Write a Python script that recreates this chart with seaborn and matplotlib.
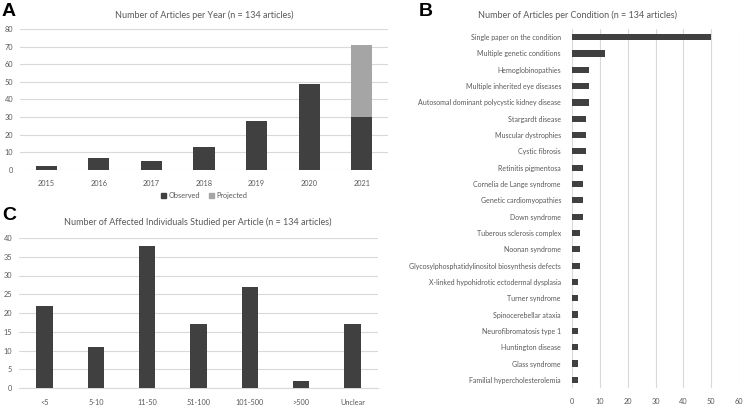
import matplotlib
matplotlib.use("Agg")
import matplotlib.pyplot as plt
import seaborn as sns
import pandas as pd
from matplotlib.patches import Patch

# ---------------- data ----------------
years = ["2015", "2016", "2017", "2018", "2019", "2020", "2021"]
observed = [2, 7, 5, 13, 28, 49, 30]
projected_total = [0, 0, 0, 0, 0, 0, 71]

conditions = [
    "Single paper on the condition",
    "Multiple genetic conditions",
    "Hemoglobinopathies",
    "Multiple inherited eye diseases",
    "Autosomal dominant polycystic kidney disease",
    "Stargardt disease",
    "Muscular dystrophies",
    "Cystic fibrosis",
    "Retinitis pigmentosa",
    "Cornelia de Lange syndrome",
    "Genetic cardiomyopathies",
    "Down syndrome",
    "Tuberous sclerosis complex",
    "Noonan syndrome",
    "Glycosylphosphatidylinositol biosynthesis defects",
    "X-linked hypohidrotic ectodermal dysplasia",
    "Turner syndrome",
    "Spinocerebellar ataxia",
    "Neurofibromatosis type 1",
    "Huntington disease",
    "Glass syndrome",
    "Familial hypercholesterolemia",
]
condition_counts = [50, 12, 6, 6, 6, 5, 5, 5, 4, 4, 4, 4, 3, 3, 3, 2, 2, 2, 2, 2, 2, 2]

size_groups = ["<5", "5-10", "11-50", "51-100", "101-500", ">500", "Unclear"]
size_counts = [22, 11, 38, 17, 27, 2, 17]

# ---------------- style ----------------
sns.set_theme(style="white")
plt.rcParams["font.family"] = ["Lato", "DejaVu Sans"]
TXT = "#595959"
GRID = "#d9d9d9"
DARK = "#404040"
LIGHT = "#a5a5a5"
TICK_FS = 5.3
TITLE_FS = 6.5

W, H = 746, 411
fig = plt.figure(figsize=(W / 100, H / 100), dpi=100)


def box(l, t, r, b):
    return [l / W, 1 - b / H, (r - l) / W, (b - t) / H]


def style_axes(ax):
    for s in ax.spines.values():
        s.set_visible(False)
    ax.tick_params(colors=TXT, labelsize=TICK_FS, length=0)
    ax.set_xlabel("")
    ax.set_ylabel("")


# ---------------- Panel A ----------------
axA = fig.add_axes(box(20, 29, 388, 170))
dfA = pd.DataFrame({"year": years, "observed": observed, "projected": projected_total})
sns.barplot(data=dfA, x="year", y="projected", color=LIGHT, width=0.4,
            saturation=1, ax=axA, zorder=2, linewidth=0)
sns.barplot(data=dfA, x="year", y="observed", color=DARK, width=0.4,
            saturation=1, ax=axA, zorder=3, linewidth=0)
axA.set_ylim(0, 80)
axA.set_yticks(range(0, 81, 10))
axA.set_xlim(-0.5, 6.5)
axA.yaxis.grid(True, color=GRID, linewidth=0.8, zorder=0)
axA.set_axisbelow(True)
style_axes(axA)
axA.tick_params(axis="x", pad=7)
axA.tick_params(axis="y", pad=5)
axA.legend(handles=[Patch(color=DARK, label="Observed"), Patch(color=LIGHT, label="Projected")],
           loc="upper center", bbox_to_anchor=(0.5, -0.13), ncol=2, frameon=False,
           fontsize=TICK_FS, labelcolor=TXT, handlelength=0.7, handleheight=0.7,
           handletextpad=0.3, columnspacing=1.2, borderpad=0)
fig.text(204 / W, 1 - 15 / H, "Number of Articles per Year (n = 134 articles)",
         ha="center", va="center", fontsize=TITLE_FS, color=TXT)

# ---------------- Panel C ----------------
axC = fig.add_axes(box(19, 238, 378, 388))
dfC = pd.DataFrame({"group": size_groups, "count": size_counts})
sns.barplot(data=dfC, x="group", y="count", color=DARK, width=0.32,
            saturation=1, ax=axC, zorder=3, linewidth=0)
axC.set_ylim(0, 40)
axC.set_yticks(range(0, 41, 5))
axC.set_xlim(-0.5, 6.5)
axC.yaxis.grid(True, color=GRID, linewidth=0.8, zorder=0)
axC.set_axisbelow(True)
style_axes(axC)
axC.spines["bottom"].set_visible(True)
axC.spines["bottom"].set_color(GRID)
axC.spines["bottom"].set_linewidth(0.8)
axC.set_xticks([-0.5, 6.5], minor=True)
axC.tick_params(axis="x", which="minor", length=14, color=GRID, width=0.8)
axC.tick_params(axis="x", pad=8)
axC.tick_params(axis="y", pad=5)
fig.text(198 / W, 1 - 222 / H, "Number of Affected Individuals Studied per Article (n = 134 articles)",
         ha="center", va="center", fontsize=TITLE_FS, color=TXT)

# ---------------- Panel B ----------------
axB = fig.add_axes(box(572, 29, 739, 388))
dfB = pd.DataFrame({"condition": conditions, "count": condition_counts})
sns.barplot(data=dfB, y="condition", x="count", color=DARK, width=0.38,
            saturation=1, orient="h", ax=axB, zorder=3, linewidth=0)
axB.set_xlim(0, 60)
axB.set_xticks(range(0, 61, 10))
axB.set_ylim(21.5, -0.5)
axB.xaxis.grid(True, color=GRID, linewidth=0.8, zorder=0)
axB.set_axisbelow(True)
style_axes(axB)
axB.tick_params(axis="y", pad=8, labelsize=5.0)
axB.tick_params(axis="x", pad=7)
fig.text(578 / W, 1 - 15 / H, "Number of Articles per Condition (n = 134 articles)",
         ha="center", va="center", fontsize=TITLE_FS, color=TXT)

# ---------------- panel letters ----------------
for x, y, s in [(2, 12, "A"), (419, 12, "B"), (2, 215, "C")]:
    fig.text(x / W, 1 - y / H, s, ha="left", va="center", fontsize=14,
             fontweight="bold", color="black", family=["Liberation Sans", "DejaVu Sans"])

fig.savefig("out.png", dpi=100)
